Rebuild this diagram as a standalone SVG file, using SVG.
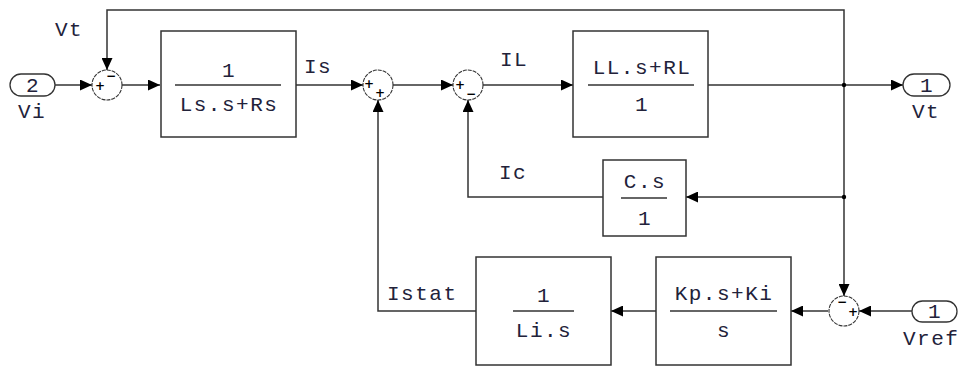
<svg xmlns="http://www.w3.org/2000/svg" width="965" height="367" viewBox="0 0 965 367">
<defs>
<marker id="arr" markerUnits="userSpaceOnUse" markerWidth="13" markerHeight="11" refX="12" refY="5.5" orient="auto">
<path d="M0,0 L12,5.5 L0,11 z" fill="#000"/>
</marker>
</defs>
<style>
.blk{fill:#fff;stroke:#333;stroke-width:1.5}
.port{fill:#fff;stroke:#333;stroke-width:1.3}
.sum{fill:#fff;stroke:#333;stroke-width:1.1;stroke-dasharray:4 1}
.frac{stroke:#333;stroke-width:1.5}
.w{fill:none;stroke:#333;stroke-width:1.5}
.a{marker-end:url(#arr)}
text{font-family:"Liberation Mono","Courier New",monospace;font-size:21px;fill:#22223a;letter-spacing:1.5px}
.m{text-anchor:middle}
.sg{font-size:12px;font-weight:bold;letter-spacing:0;fill:#000;font-family:"DejaVu Sans",sans-serif;text-anchor:middle}
</style>
<rect width="965" height="367" fill="#fff"/>
<g id="connectors">
<path class="w a" d="M55,85 H92"/>
<path class="w a" d="M122,85 H160"/>
<path class="w a" d="M296,85 H363"/>
<path class="w a" d="M393,85 H453"/>
<path class="w a" d="M483,85 H573"/>
<path class="w a" d="M708,85 H903"/>
<path class="w a" d="M844,85 V10 H107 V70"/>
<path class="w a" d="M844,85 V296"/>
<path class="w a" d="M844,197 H686"/>
<path class="w a" d="M603,197 H468 V100"/>
<path class="w a" d="M912,311 H859"/>
<path class="w a" d="M828,311 H791"/>
<path class="w a" d="M656,311 H611"/>
<path class="w a" d="M476,311 H378 V100"/>
<circle cx="844" cy="85" r="2.2" fill="#000"/>
<circle cx="844" cy="197" r="2.2" fill="#000"/>
</g>
<g id="in_vi">
<rect class="port" x="10" y="74" width="45" height="22" rx="11"/>
<text class="m" x="33" y="92">2</text>
<text x="18" y="118">Vi</text>
</g>
<text x="55" y="36">Vt</text>
<g id="sum1">
<circle class="sum" cx="107" cy="85" r="15"/>
<text class="sg" x="100" y="90">+</text>
<text class="sg" x="111" y="80">−</text>
</g>
<g id="blk_ls">
<rect class="blk" x="161" y="31" width="135" height="106"/>
<line class="frac" x1="175" y1="85" x2="281" y2="85"/>
<text class="m" x="229" y="77">1</text>
<text class="m" x="229" y="111">Ls.s+Rs</text>
</g>
<text x="304" y="73">Is</text>
<g id="sum2">
<circle class="sum" cx="378" cy="85" r="15"/>
<text class="sg" x="369" y="88">+</text>
<text class="sg" x="380" y="97">+</text>
</g>
<g id="sum3">
<circle class="sum" cx="468" cy="85" r="15"/>
<text class="sg" x="460" y="89">+</text>
<text class="sg" x="471" y="98">−</text>
</g>
<text x="500" y="66">IL</text>
<g id="blk_ll">
<rect class="blk" x="573" y="31" width="135" height="106"/>
<line class="frac" x1="588" y1="85" x2="694" y2="85"/>
<text class="m" x="642" y="74">LL.s+RL</text>
<text class="m" x="642" y="111">1</text>
</g>
<g id="out_vt">
<rect class="port" x="903" y="74" width="47" height="22" rx="11"/>
<text class="m" x="927" y="92">1</text>
<text x="912" y="118">Vt</text>
</g>
<text x="499" y="179">Ic</text>
<g id="blk_c">
<rect class="blk" x="603" y="160" width="83" height="76"/>
<line class="frac" x1="621" y1="198" x2="667" y2="198"/>
<text class="m" x="645" y="188">C.s</text>
<text class="m" x="645" y="225">1</text>
</g>
<text x="387" y="300">Istat</text>
<g id="blk_li">
<rect class="blk" x="476" y="257" width="135" height="108"/>
<line class="frac" x1="513" y1="311" x2="574" y2="311"/>
<text class="m" x="544" y="302">1</text>
<text class="m" x="544" y="337">Li.s</text>
</g>
<g id="blk_pi">
<rect class="blk" x="656" y="257" width="135" height="108"/>
<line class="frac" x1="670" y1="311" x2="777" y2="311"/>
<text class="m" x="724" y="300">Kp.s+Ki</text>
<text class="m" x="724" y="337">s</text>
</g>
<g id="sum4">
<circle class="sum" cx="844" cy="311" r="15"/>
<text class="sg" x="842" y="306">−</text>
<text class="sg" x="853" y="316">+</text>
</g>
<g id="in_vref">
<rect class="port" x="912" y="301" width="45" height="21" rx="10.5"/>
<text class="m" x="935" y="318">1</text>
<text x="903" y="345">Vref</text>
</g>
</svg>
